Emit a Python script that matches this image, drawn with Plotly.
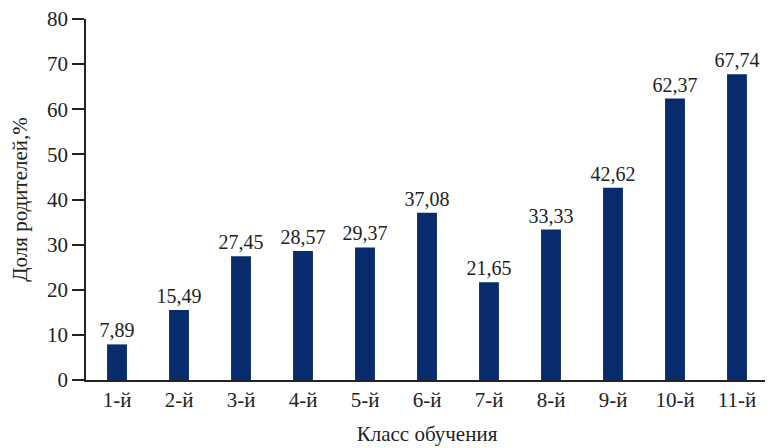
import plotly.graph_objects as go

grades = ["1-й", "2-й", "3-й", "4-й", "5-й", "6-й", "7-й", "8-й", "9-й", "10-й", "11-й"]
shares = [7.89, 15.49, 27.45, 28.57, 29.37, 37.08, 21.65, 33.33, 42.62, 62.37, 67.74]
labels = [f"{v:.2f}".replace(".", ",") for v in shares]
y_ticks = [0, 10, 20, 30, 40, 50, 60, 70, 80]

font = "Liberation Serif, DejaVu Serif, serif"

fig = go.Figure(go.Bar(
    x=grades, y=shares,
    marker=dict(color="#072b6d", line=dict(width=0)),
    text=labels, textposition="outside", cliponaxis=False,
    constraintext="none",
    textfont=dict(family=font, size=20, color="#222"),
))

# page body adds an 8px offset, so margins are shifted by that
fig.update_layout(
    width=773, height=448,
    margin=dict(l=78, r=13, t=11, b=76),
    plot_bgcolor="white", paper_bgcolor="white",
    bargap=0.68, showlegend=False,
    font=dict(family=font, size=21, color="#222"),
)
fig.update_xaxes(
    automargin=False,
    showline=True, linecolor="#222", linewidth=1.5,
    ticks="", showgrid=False,
    title=dict(text="Класс обучения", font=dict(size=21), standoff=15),
)
fig.update_yaxes(
    automargin=False, ticklabeloverflow="allow",
    range=[0, 80], tickvals=y_ticks, showgrid=False, zeroline=False,
    showline=True, linecolor="#222", linewidth=1.5,
    ticks="outside", ticklen=12, tickwidth=1.5, tickcolor="#222",
    title=dict(text="Доля родителей,%", font=dict(size=21), standoff=14),
)

fig.write_html("out.html")
